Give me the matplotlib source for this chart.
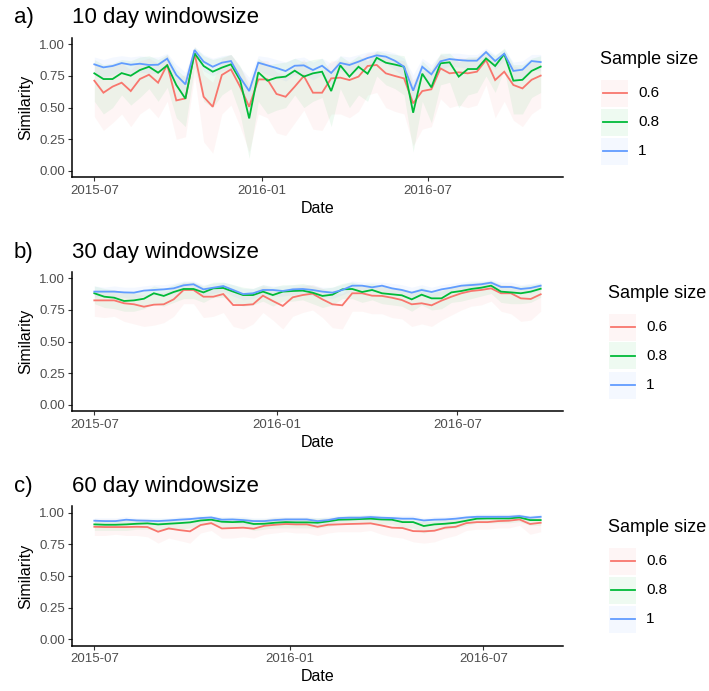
import numpy as np
import pandas as pd
import matplotlib
matplotlib.use("Agg")
import matplotlib.pyplot as plt
import matplotlib.dates as mdates
from matplotlib.patches import Rectangle
from matplotlib.lines import Line2D

plt.rcParams['font.family'] = ['Liberation Sans', 'DejaVu Sans']

# ---------------------------------------------------------------- data
start_date = "2015-07-01"
step = "10D"
sample_sizes = ["0.6", "0.8", "1"]
colors = ["#F8766D", "#00BA38", "#619CFF"]
date_ticks = ["2015-07-01", "2016-01-01", "2016-07-01"]
y_ticks = [0.00, 0.25, 0.50, 0.75, 1.00]

# 10 day window
a_06 = [0.713, 0.618, 0.666, 0.697, 0.631, 0.726, 0.76, 0.697, 0.84, 0.557, 0.573, 0.93, 0.586, 0.507, 0.758, 0.802, 0.666, 0.507, 0.723, 0.723, 0.608, 0.586, 0.666, 0.75, 0.618,
        0.618, 0.731, 0.737, 0.718, 0.745, 0.829, 0.837, 0.771, 0.75, 0.731, 0.534,
        0.631, 0.645, 0.81, 0.771, 0.779, 0.771, 0.784, 0.876, 0.718, 0.784, 0.679, 0.652, 0.72, 0.753]
a_06_lo = [0.43, 0.32, 0.38, 0.45, 0.35, 0.45, 0.5, 0.42, 0.55, 0.25, 0.27, 0.75, 0.23, 0.14, 0.45, 0.52, 0.35, 0.15, 0.45, 0.42, 0.3, 0.28, 0.38, 0.48, 0.33,
           0.32, 0.45, 0.45, 0.42, 0.47, 0.6, 0.62, 0.5, 0.47, 0.45, 0.2, 0.33, 0.35, 0.57, 0.5, 0.52, 0.5, 0.52, 0.68, 0.42, 0.55, 0.4, 0.35, 0.45, 0.5]
a_06_hi = [0.86, 0.8, 0.83, 0.85, 0.8, 0.87, 0.89, 0.85, 0.92, 0.74, 0.76, 0.98, 0.76, 0.7, 0.89, 0.92, 0.82, 0.7, 0.87, 0.87, 0.78, 0.76, 0.82, 0.88, 0.78,
           0.78, 0.87, 0.87, 0.86, 0.88, 0.93, 0.94, 0.9, 0.88, 0.87, 0.72, 0.79, 0.8, 0.92, 0.89, 0.9, 0.89, 0.9, 0.96, 0.86, 0.91, 0.83, 0.81, 0.86, 0.88]
a_08 = [0.771, 0.726, 0.726, 0.773, 0.752, 0.797, 0.823, 0.776, 0.834, 0.679, 0.571, 0.929, 0.829, 0.784, 0.816, 0.842, 0.718, 0.415, 0.779, 0.713, 0.737, 0.745, 0.792, 0.745, 0.771,
        0.784, 0.631, 0.834, 0.745, 0.823, 0.768, 0.894, 0.855, 0.84, 0.823, 0.46,
        0.768, 0.66, 0.85, 0.858, 0.745, 0.805, 0.805, 0.889, 0.829, 0.923, 0.713, 0.72, 0.79, 0.824]
a_08_lo = [0.55, 0.45, 0.5, 0.6, 0.52, 0.58, 0.65, 0.55, 0.66, 0.42, 0.35, 0.82, 0.55, 0.5, 0.6, 0.65, 0.45, 0.1, 0.55, 0.45, 0.48, 0.5, 0.6, 0.5, 0.55,
           0.58, 0.35, 0.65, 0.5, 0.6, 0.55, 0.75, 0.68, 0.65, 0.6, 0.15, 0.55, 0.38, 0.68, 0.7, 0.5, 0.6, 0.62, 0.75, 0.62, 0.8, 0.45, 0.45, 0.58, 0.62]
a_08_hi = [0.88, 0.84, 0.85, 0.88, 0.87, 0.9, 0.91, 0.88, 0.92, 0.8, 0.74, 0.98, 0.91, 0.88, 0.9, 0.92, 0.83, 0.66, 0.89, 0.84, 0.85, 0.86, 0.89, 0.86, 0.88,
           0.89, 0.78, 0.91, 0.86, 0.91, 0.87, 0.95, 0.93, 0.92, 0.91, 0.68, 0.87, 0.8, 0.93, 0.93, 0.86, 0.9, 0.9, 0.95, 0.91, 0.97, 0.84, 0.84, 0.89, 0.91]
a_10 = [0.842, 0.818, 0.829, 0.852, 0.839, 0.847, 0.837, 0.839, 0.887, 0.758, 0.684, 0.955, 0.863, 0.823, 0.855, 0.868, 0.739, 0.631, 0.855, 0.834, 0.813, 0.789, 0.831, 0.834, 0.797,
        0.831, 0.774, 0.853, 0.837, 0.863, 0.892, 0.913, 0.903, 0.87, 0.823, 0.634,
        0.823, 0.763, 0.866, 0.884, 0.876, 0.871, 0.871, 0.939, 0.868, 0.926, 0.79, 0.80, 0.868, 0.86]
a_10_lo = [0.77, 0.74, 0.76, 0.79, 0.77, 0.78, 0.77, 0.77, 0.83, 0.66, 0.57, 0.92, 0.79, 0.75, 0.79, 0.81, 0.64, 0.48, 0.79, 0.76, 0.74, 0.71, 0.76, 0.76, 0.72,
           0.76, 0.68, 0.79, 0.77, 0.8, 0.83, 0.86, 0.85, 0.8, 0.74, 0.5, 0.75, 0.68, 0.8, 0.83, 0.82, 0.81, 0.81, 0.9, 0.8, 0.88, 0.71, 0.72, 0.8, 0.79]
a_10_hi = [0.9, 0.88, 0.9, 0.91, 0.9, 0.91, 0.9, 0.9, 0.93, 0.84, 0.78, 0.98, 0.92, 0.89, 0.91, 0.92, 0.82, 0.74, 0.91, 0.9, 0.88, 0.86, 0.89, 0.9, 0.86,
           0.89, 0.85, 0.91, 0.9, 0.92, 0.94, 0.95, 0.95, 0.93, 0.89, 0.76, 0.89, 0.84, 0.92, 0.93, 0.93, 0.92, 0.92, 0.97, 0.92, 0.96, 0.86, 0.87, 0.92, 0.92]

# 30 day window
b_06 = [0.826, 0.826, 0.826, 0.803, 0.795, 0.776, 0.792, 0.795, 0.834, 0.908, 0.908, 0.855, 0.855, 0.876, 0.789, 0.789, 0.795, 0.863, 0.821, 0.782, 0.85, 0.868, 0.879,
        0.834, 0.795, 0.787, 0.882, 0.882, 0.863, 0.861, 0.847, 0.829, 0.795, 0.803, 0.787, 0.824, 0.855, 0.882, 0.9, 0.908, 0.921, 0.882, 0.882, 0.842, 0.837, 0.874]
b_06_lo = [0.7, 0.69, 0.7, 0.66, 0.64, 0.62, 0.63, 0.65, 0.7, 0.8, 0.8, 0.69, 0.7, 0.73, 0.62, 0.6, 0.64, 0.73, 0.67, 0.6, 0.7, 0.73, 0.75,
           0.69, 0.61, 0.6, 0.74, 0.74, 0.72, 0.72, 0.69, 0.68, 0.62, 0.64, 0.62, 0.67, 0.71, 0.75, 0.78, 0.79, 0.82, 0.74, 0.72, 0.66, 0.67, 0.74]
b_06_hi = [0.91, 0.91, 0.91, 0.89, 0.88, 0.87, 0.88, 0.89, 0.92, 0.97, 0.97, 0.93, 0.93, 0.95, 0.88, 0.88, 0.89, 0.94, 0.91, 0.88, 0.93, 0.94, 0.95,
           0.92, 0.89, 0.88, 0.95, 0.95, 0.94, 0.94, 0.93, 0.92, 0.89, 0.9, 0.88, 0.91, 0.93, 0.95, 0.96, 0.97, 0.98, 0.95, 0.95, 0.92, 0.92, 0.95]
b_08 = [0.882, 0.855, 0.847, 0.821, 0.826, 0.839, 0.882, 0.861, 0.892, 0.916, 0.916, 0.889, 0.921, 0.924, 0.895, 0.868, 0.868, 0.895, 0.868, 0.895, 0.9, 0.903, 0.887,
        0.861, 0.871, 0.913, 0.916, 0.892, 0.908, 0.882, 0.874, 0.866, 0.834, 0.871, 0.842, 0.842, 0.889, 0.9, 0.916, 0.926, 0.942, 0.895, 0.889, 0.882, 0.895, 0.918]
b_08_lo = [0.8, 0.77, 0.76, 0.74, 0.74, 0.76, 0.8, 0.78, 0.81, 0.84, 0.84, 0.81, 0.85, 0.85, 0.81, 0.78, 0.79, 0.82, 0.78, 0.82, 0.82, 0.83, 0.8,
           0.77, 0.79, 0.84, 0.84, 0.81, 0.83, 0.8, 0.79, 0.78, 0.74, 0.79, 0.75, 0.76, 0.81, 0.82, 0.84, 0.86, 0.88, 0.81, 0.8, 0.8, 0.81, 0.85]
b_08_hi = [0.94, 0.92, 0.91, 0.89, 0.89, 0.9, 0.94, 0.92, 0.95, 0.97, 0.97, 0.94, 0.97, 0.97, 0.95, 0.93, 0.92, 0.95, 0.93, 0.95, 0.95, 0.96, 0.94,
           0.92, 0.93, 0.96, 0.97, 0.95, 0.96, 0.94, 0.93, 0.92, 0.9, 0.93, 0.9, 0.9, 0.94, 0.95, 0.97, 0.97, 0.98, 0.95, 0.94, 0.94, 0.95, 0.96]
b_10 = [0.895, 0.895, 0.895, 0.889, 0.887, 0.903, 0.908, 0.913, 0.921, 0.945, 0.953, 0.913, 0.926, 0.939, 0.908, 0.876, 0.882, 0.908, 0.908, 0.9, 0.913, 0.916, 0.908,
        0.895, 0.887, 0.908, 0.942, 0.942, 0.929, 0.942, 0.921, 0.908, 0.887, 0.908, 0.892, 0.913, 0.926, 0.942, 0.947, 0.953, 0.966, 0.932, 0.932, 0.916, 0.924, 0.942]
b_10_lo = [0.85, 0.86, 0.85, 0.85, 0.84, 0.86, 0.87, 0.87, 0.88, 0.91, 0.92, 0.87, 0.88, 0.9, 0.86, 0.83, 0.84, 0.87, 0.86, 0.86, 0.87, 0.88, 0.86,
           0.85, 0.84, 0.87, 0.9, 0.91, 0.89, 0.9, 0.88, 0.86, 0.84, 0.86, 0.85, 0.87, 0.89, 0.91, 0.91, 0.92, 0.94, 0.89, 0.89, 0.88, 0.88, 0.91]
b_10_hi = [0.94, 0.93, 0.94, 0.93, 0.93, 0.94, 0.95, 0.95, 0.96, 0.98, 0.98, 0.95, 0.96, 0.97, 0.95, 0.92, 0.92, 0.95, 0.94, 0.94, 0.95, 0.95, 0.95,
           0.93, 0.93, 0.95, 0.98, 0.97, 0.97, 0.97, 0.96, 0.95, 0.93, 0.95, 0.93, 0.95, 0.96, 0.97, 0.98, 0.98, 0.99, 0.97, 0.97, 0.95, 0.96, 0.97]

# 60 day window
c_06 = [0.889, 0.887, 0.887, 0.887, 0.889, 0.887, 0.85, 0.876, 0.863, 0.853, 0.903, 0.918, 0.876, 0.879, 0.882, 0.874, 0.897, 0.905, 0.911, 0.908, 0.908, 0.889,
        0.905, 0.908, 0.911, 0.913, 0.916, 0.9, 0.882, 0.879, 0.855, 0.853, 0.858, 0.882, 0.889, 0.918, 0.926, 0.926, 0.934, 0.937, 0.947, 0.911, 0.921]
c_06_lo = [0.82, 0.82, 0.83, 0.82, 0.82, 0.81, 0.76, 0.8, 0.78, 0.76, 0.84, 0.86, 0.8, 0.8, 0.81, 0.8, 0.83, 0.84, 0.85, 0.84, 0.84, 0.82,
           0.84, 0.85, 0.85, 0.85, 0.86, 0.83, 0.81, 0.8, 0.77, 0.76, 0.77, 0.8, 0.82, 0.86, 0.87, 0.87, 0.88, 0.88, 0.9, 0.83, 0.85]
c_06_hi = [0.95, 0.95, 0.95, 0.95, 0.95, 0.95, 0.92, 0.94, 0.93, 0.93, 0.96, 0.97, 0.94, 0.94, 0.95, 0.94, 0.95, 0.96, 0.96, 0.96, 0.96, 0.95,
           0.96, 0.96, 0.96, 0.96, 0.97, 0.96, 0.95, 0.95, 0.93, 0.93, 0.93, 0.95, 0.95, 0.97, 0.97, 0.97, 0.98, 0.98, 0.98, 0.96, 0.97]
c_08 = [0.908, 0.905, 0.905, 0.908, 0.913, 0.916, 0.908, 0.913, 0.918, 0.924, 0.939, 0.945, 0.929, 0.926, 0.929, 0.911, 0.913, 0.921, 0.926, 0.924, 0.924, 0.921,
        0.932, 0.945, 0.947, 0.95, 0.953, 0.947, 0.945, 0.926, 0.926, 0.895, 0.908, 0.913, 0.921, 0.937, 0.953, 0.955, 0.955, 0.955, 0.963, 0.942, 0.942]
c_08_lo = [0.86, 0.86, 0.86, 0.86, 0.87, 0.87, 0.86, 0.87, 0.87, 0.88, 0.9, 0.91, 0.89, 0.88, 0.89, 0.86, 0.87, 0.88, 0.88, 0.88, 0.88, 0.88,
           0.89, 0.91, 0.91, 0.92, 0.92, 0.91, 0.91, 0.88, 0.88, 0.84, 0.86, 0.87, 0.88, 0.9, 0.92, 0.92, 0.92, 0.92, 0.93, 0.9, 0.9]
c_08_hi = [0.95, 0.94, 0.94, 0.95, 0.95, 0.95, 0.95, 0.95, 0.96, 0.96, 0.97, 0.97, 0.96, 0.96, 0.96, 0.95, 0.95, 0.96, 0.96, 0.96, 0.96, 0.96,
           0.96, 0.97, 0.98, 0.98, 0.98, 0.97, 0.97, 0.96, 0.96, 0.94, 0.95, 0.95, 0.96, 0.97, 0.98, 0.98, 0.98, 0.98, 0.99, 0.97, 0.97]
c_10 = [0.937, 0.934, 0.934, 0.945, 0.939, 0.937, 0.934, 0.939, 0.945, 0.95, 0.958, 0.963, 0.945, 0.947, 0.942, 0.934, 0.934, 0.942, 0.947, 0.947, 0.947, 0.934,
        0.942, 0.958, 0.961, 0.961, 0.966, 0.961, 0.958, 0.953, 0.953, 0.939, 0.945, 0.947, 0.953, 0.963, 0.968, 0.968, 0.968, 0.968, 0.974, 0.961, 0.968]
c_10_lo = [0.91, 0.9, 0.91, 0.92, 0.91, 0.91, 0.9, 0.91, 0.92, 0.92, 0.93, 0.94, 0.92, 0.92, 0.91, 0.9, 0.9, 0.91, 0.92, 0.92, 0.92, 0.9,
           0.91, 0.93, 0.94, 0.94, 0.94, 0.94, 0.93, 0.93, 0.93, 0.91, 0.92, 0.92, 0.93, 0.94, 0.95, 0.95, 0.95, 0.95, 0.95, 0.94, 0.95]
c_10_hi = [0.96, 0.96, 0.96, 0.97, 0.96, 0.96, 0.96, 0.96, 0.97, 0.97, 0.98, 0.98, 0.97, 0.97, 0.97, 0.96, 0.96, 0.97, 0.97, 0.97, 0.97, 0.96,
           0.97, 0.98, 0.98, 0.98, 0.99, 0.98, 0.98, 0.98, 0.98, 0.96, 0.97, 0.97, 0.98, 0.98, 0.99, 0.99, 0.99, 0.99, 0.99, 0.98, 0.99]

panels = [
    ("a)", "10 day windowsize",
     [(a_06, a_06_lo, a_06_hi), (a_08, a_08_lo, a_08_hi), (a_10, a_10_lo, a_10_hi)]),
    ("b)", "30 day windowsize",
     [(b_06, b_06_lo, b_06_hi), (b_08, b_08_lo, b_08_hi), (b_10, b_10_lo, b_10_hi)]),
    ("c)", "60 day windowsize",
     [(c_06, c_06_lo, c_06_hi), (c_08, c_08_lo, c_08_hi), (c_10, c_10_lo, c_10_hi)]),
]

# ---------------------------------------------------------------- layout (pixels)
W, H = 709, 691
fig = plt.figure(figsize=(W / 100, H / 100), dpi=100)
fig.patch.set_facecolor("white")


def fx(px):
    return px / W


def fy(py):
    return 1 - py / H


AX_LEFT, AX_RIGHT = 72, 563
AX_TOPS = [38, 272, 506.4]
AX_H = 139.3
LEGEND_X = [600, 608, 608]
RIBBON_ALPHA = 0.065
TICK_GREY = "#4D4D4D"

for k, (tag, title, series) in enumerate(panels):
    top = AX_TOPS[k]
    ax = fig.add_axes([fx(AX_LEFT), fy(top + AX_H), (AX_RIGHT - AX_LEFT) / W, AX_H / H])
    n = len(series[0][0])
    dates = pd.date_range(start_date, periods=n, freq=step)

    for (mid, lo, hi), col in zip(series, colors):
        ax.fill_between(dates, lo, hi, color=col, alpha=RIBBON_ALPHA, linewidth=0)
    for (mid, lo, hi), col in zip(series, colors):
        ax.plot(dates, mid, color=col, lw=1.3, solid_joinstyle="miter")

    ax.margins(x=0.05)
    ax.set_ylim(-0.05, 1.05)
    ax.set_yticks(y_ticks)
    ax.set_yticklabels([f"{v:.2f}" for v in y_ticks])
    ax.set_xticks(pd.to_datetime(date_ticks))
    ax.xaxis.set_major_formatter(mdates.DateFormatter("%Y-%m"))

    for side in ("top", "right"):
        ax.spines[side].set_visible(False)
    for side in ("left", "bottom"):
        ax.spines[side].set_linewidth(1.1)
        ax.spines[side].set_color("black")
    ax.tick_params(direction="out", length=3.2, width=0.8, color="#333333",
                   labelsize=9.5, labelcolor=TICK_GREY, pad=2)

    ax.set_xlabel("Date", fontsize=11.5, labelpad=3)
    ax.set_ylabel("Similarity", fontsize=11.5, labelpad=4)

    # panel tag and title
    fig.text(fx(14), fy(top - 20), tag, fontsize=16, va="center", ha="left")
    fig.text(fx(72), fy(top - 20), title, fontsize=16, va="center", ha="left")

    # legend
    lx = LEGEND_X[k]
    fig.text(fx(lx), fy(top + 21), "Sample size", fontsize=13, va="center", ha="left")
    for j, (lab, col) in enumerate(zip(sample_sizes, colors)):
        yc = top + 55 + 29 * j
        fig.add_artist(Rectangle((fx(lx + 1), fy(yc + 13.5)), 27 / W, 27 / H,
                                 transform=fig.transFigure, facecolor=col,
                                 alpha=RIBBON_ALPHA, edgecolor="none"))
        fig.add_artist(Line2D([fx(lx + 2.5), fx(lx + 26.5)], [fy(yc), fy(yc)],
                              transform=fig.transFigure, color=col, lw=1.3))
        fig.text(fx(lx + 38), fy(yc), lab, fontsize=11, va="center", ha="left")

fig.savefig("out.png", dpi=100, facecolor="white")
